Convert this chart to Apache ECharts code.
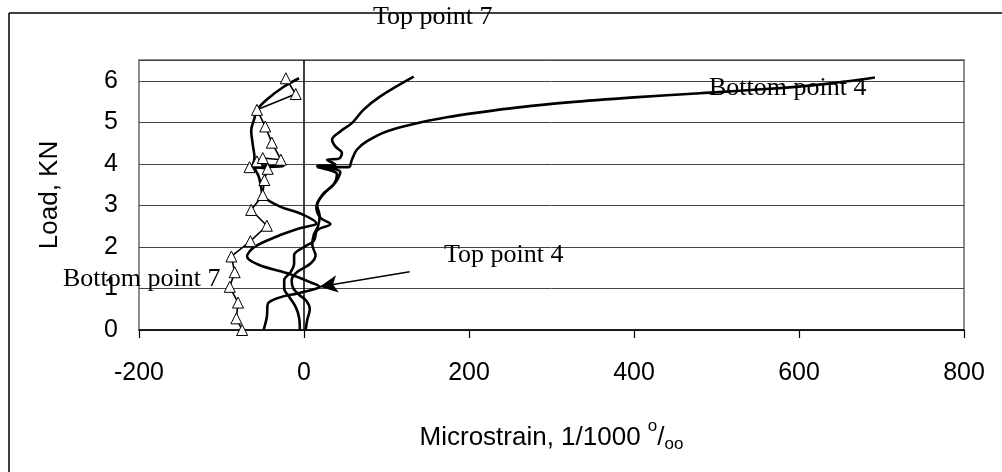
<!DOCTYPE html>
<html>
<head>
<meta charset="utf-8">
<script src="https://cdn.jsdelivr.net/npm/echarts@6/dist/echarts.min.js"></script>
<style>
html,body{margin:0;padding:0;background:#fff;}
#chart{width:1002px;height:472px;}
</style>
</head>
<body>
<div id="chart"></div>
<script>
// ---- data (microstrain, load kN) ----
var xTicks = [-200, 0, 200, 400, 600, 800];
var yTicks = [0, 1, 2, 3, 4, 5, 6];

var trianglePoint = [
  [-75,0],[-82,0.28],[-80,0.66],[-90,1.04],[-84,1.39],[-88,1.77],[-65,2.14],[-45,2.51],
  [-64,2.89],[-50,3.25],[-48,3.61],[-44,3.88],[-66,3.92],[-57,4.06],[-50,4.14],[-28,4.1],
  [-39,4.51],[-47,4.9],[-57,5.3],[-10,5.68],[-22,6.06]
];
var curveTop7 = [
  [-49,0],[-45,0.32],[-44,0.62],[-30,0.78],[-8,0.88],[12,0.98],[19,1.04],[10,1.13],
  [-21,1.37],[-55,1.57],[-69,1.77],[-60,2.0],[-33,2.25],[-5,2.45],[15,2.57],[-5,2.81],
  [-29,2.97],[-49,3.21],[-52,3.45],[-55,3.7],[-60,3.9],[-25,3.94],[-62,3.97],[-60,4.15],
  [-62,4.45],[-64,4.8],[-60,5.1],[-57,5.3],[-45,5.55],[-25,5.85],[-6,6.06]
];
var curveTop4 = [
  [-5,0],[-6,0.3],[-10,0.55],[-18,0.8],[-24,1.0],[-24,1.2],[-16,1.4],[-12,1.6],[-12,1.8],
  [0,2.0],[12,2.15],[16,2.4],[32,2.55],[20,2.7],[15,2.95],[22,3.25],[36,3.5],[40,3.75],
  [16,3.94],[38,3.98],[28,4.1],[42,4.12],[46,4.26],[38,4.42],[34,4.58],[44,4.78],
  [58,4.98],[72,5.3],[92,5.62],[133,6.1]
];
var curveBottom4 = [
  [2,0],[4,0.25],[7,0.5],[3,0.7],[-6,0.85],[-13,1.0],[-15,1.2],[-8,1.4],[8,1.6],[14,1.8],
  [10,2.05],[12,2.3],[17,2.5],[19,2.75],[16,3.0],[25,3.3],[38,3.55],[44,3.8],[16,3.92],
  [54,3.92],[58,4.1],[64,4.34],[76,4.54],[100,4.78],[133,4.96],[173,5.12],[213,5.24],
  [260,5.36],[320,5.48],[400,5.6],[480,5.7],[560,5.8],[630,5.92],[692,6.08]
];
var arrowFrom = [128, 1.4];
var arrowTo = [19, 1.04];

var serif = "'Liberation Serif','Times New Roman',serif";
var sans = "'Liberation Sans',Arial,sans-serif";

var chart = echarts.init(document.getElementById('chart'), null, {renderer:'canvas'});
function curve(name, data){
  return {
    name: name, type: 'line', data: data, smooth: 0.35, showSymbol: false,
    lineStyle: {color: '#000', width: 2.6}, z: 3, silent: true
  };
}
var option = {
  animation: false,
  grid: {left: 139, right: 38, top: 60, bottom: 142, show: true,
         borderColor: '#8c8c8c', borderWidth: 2, backgroundColor: 'transparent'},
  xAxis: {
    type: 'value', min: xTicks[0], max: xTicks[xTicks.length-1], interval: 200,
    axisLine: {show: true, onZero: false, lineStyle: {color: '#000', width: 1.5}},
    axisTick: {show: true, inside: false, length: 8, lineStyle: {color: '#000', width: 1.2}},
    splitLine: {show: false},
    axisLabel: {color: '#000', fontSize: 25, fontFamily: sans, margin: 31},
    name: '{a|Microstrain, 1/1000 }{sup|o}{a|/}{sub|oo}',
    nameLocation: 'middle', nameGap: 88,
    nameTextStyle: {
      color: '#000', fontFamily: sans, fontSize: 26,
      rich: {
        a: {fontSize: 26, fontFamily: sans, color: '#000'},
        sup: {fontSize: 17, fontFamily: sans, color: '#000', padding: [0,0,22,0]},
        sub: {fontSize: 17, fontFamily: sans, color: '#000', padding: [14,0,0,0]}
      }
    }
  },
  yAxis: {
    type: 'value', min: 0, max: 6.5, interval: 1,
    axisLine: {show: false}, axisTick: {show: false},
    splitLine: {show: true, lineStyle: {color: '#444', width: 1}},
    axisLabel: {color: '#000', fontSize: 25, fontFamily: sans, margin: 21,
      formatter: function(v){ return yTicks.indexOf(v) >= 0 ? String(v) : ''; }},
    name: 'Load, KN', nameLocation: 'middle', nameGap: 76,
    nameTextStyle: {color: '#000', fontSize: 26, fontFamily: sans}
  },
  series: [
    curve('Top point 7', curveTop7),
    curve('Top point 4', curveTop4),
    curve('Bottom point 4', curveBottom4),
    {
      name: 'Bottom point 7', type: 'line', data: trianglePoint, smooth: false,
      showSymbol: true, symbol: 'triangle', symbolSize: 11,
      lineStyle: {color: '#000', width: 1.6},
      itemStyle: {color: '#fff', borderColor: '#000', borderWidth: 1}, z: 4, silent: true,
      markLine: {
        silent: true, animation: false, symbol: ['none','none'],
        label: {show: false},
        lineStyle: {color: '#000', width: 1.5, type: 'solid'},
        data: [{xAxis: 0}]
      }
    },
    {
      name: 'arrow', type: 'line', data: [], silent: true,
      markLine: {
        silent: true, animation: false, symbol: ['none','arrow'], symbolSize: [13, 18],
        label: {show: false},
        lineStyle: {color: '#000', width: 1.5, type: 'solid'},
        data: [[{coord: arrowFrom}, {coord: arrowTo}]]
      }
    }
  ],
  graphic: [
    {type: 'line', shape: {x1: 9, y1: 13, x2: 1002, y2: 13}, style: {stroke: '#000', lineWidth: 1.5}, z: 0},
    {type: 'line', shape: {x1: 9, y1: 13, x2: 9, y2: 472}, style: {stroke: '#000', lineWidth: 1.5}, z: 0},
    {type: 'text', left: 373, top: 4, z: 10, style: {text: 'Top point 7', font: '26px ' + serif, fill: '#000'}},
    {type: 'text', left: 444, top: 242, z: 10, style: {text: 'Top point 4', font: '26px ' + serif, fill: '#000'}},
    {type: 'text', left: 709, top: 75, z: 10, style: {text: 'Bottom point 4', font: '26px ' + serif, fill: '#000'}},
    {type: 'text', left: 63, top: 266, z: 10, style: {text: 'Bottom point 7', font: '26px ' + serif, fill: '#000'}}
  ]
};
chart.setOption(option);
</script>
</body>
</html>
